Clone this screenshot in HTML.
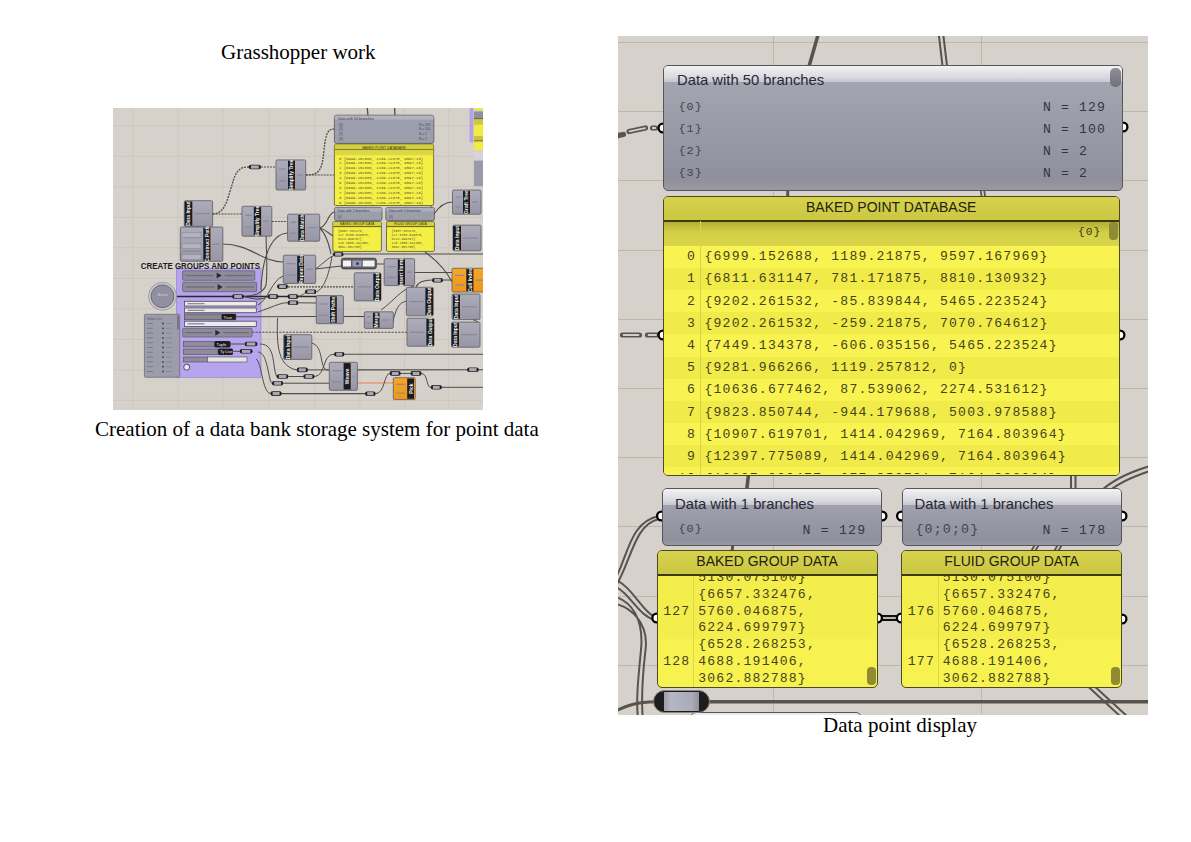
<!DOCTYPE html>
<html><head><meta charset="utf-8">
<style>
*{margin:0;padding:0;box-sizing:border-box}
html,body{width:1191px;height:842px;background:#fff;overflow:hidden;position:relative}
.cap{position:absolute;font-family:"Liberation Serif",serif;color:#000;white-space:nowrap;line-height:1}
.abs{position:absolute}
#rc{position:absolute;left:618px;top:36px;width:530px;height:679px;background:#d6d1ca;overflow:hidden}
.node{position:absolute;border:1.5px solid #55565a;border-radius:5px;background:linear-gradient(#a7a8b3,#8f909c 92%,#9899a5);overflow:hidden}
.node .hd{position:absolute;left:0;right:0;top:0;height:16px;background:linear-gradient(#f3f3f5,#d9d9df 70%,#c6c7cf)}
.ttl{position:absolute;font-family:"Liberation Sans",sans-serif;white-space:nowrap;line-height:1}
.mono{position:absolute;font-family:"Liberation Mono",monospace;white-space:pre;line-height:1}
.panel{position:absolute;border:1.5px solid #4b4a20;border-radius:5px;background:#f8f250;overflow:hidden}
.ph{position:absolute;left:0;right:0;top:0;background:linear-gradient(#d6d24c,#cbc743);border-bottom:2px solid #3c3a0a}
.clip{position:absolute;overflow:hidden}
</style></head><body>

<div class="cap" style="left:221.00px;top:42.41px;font-size:21px">Grasshopper work</div>
<div class="cap" style="left:95.00px;top:419.41px;font-size:21px">Creation of a data bank storage system for point data</div>
<div class="cap" style="left:823.00px;top:714.91px;font-size:21px">Data point display</div>
<div id="lc" class="abs" style="left:113px;top:108px;width:370px;height:302px;background:#d7d3cc;overflow:hidden">
<svg class="abs" style="left:0;top:0" width="370" height="302" viewBox="113 108 370 302" fill="none" font-family="Liberation Sans, sans-serif"><defs><linearGradient id="ng" x1="0" y1="0" x2="0" y2="1"><stop offset="0" stop-color="#adacba"/><stop offset="1" stop-color="#9896a6"/></linearGradient><linearGradient id="og" x1="0" y1="0" x2="0" y2="1"><stop offset="0" stop-color="#f8a628"/><stop offset="1" stop-color="#ef9618"/></linearGradient></defs><rect x="113" y="108" width="370" height="302" fill="#d6d2cb"/><line x1="113" y1="125.8" x2="483" y2="125.8" stroke="#ccc6be" stroke-width="1"/><line x1="113" y1="156.3" x2="483" y2="156.3" stroke="#ccc6be" stroke-width="1"/><line x1="113" y1="186.8" x2="483" y2="186.8" stroke="#ccc6be" stroke-width="1"/><line x1="113" y1="217.3" x2="483" y2="217.3" stroke="#ccc6be" stroke-width="1"/><line x1="113" y1="247.8" x2="483" y2="247.8" stroke="#ccc6be" stroke-width="1"/><line x1="113" y1="278.3" x2="483" y2="278.3" stroke="#ccc6be" stroke-width="1"/><line x1="113" y1="308.8" x2="483" y2="308.8" stroke="#ccc6be" stroke-width="1"/><line x1="113" y1="339.3" x2="483" y2="339.3" stroke="#ccc6be" stroke-width="1"/><line x1="113" y1="369.8" x2="483" y2="369.8" stroke="#ccc6be" stroke-width="1"/><line x1="113" y1="400.3" x2="483" y2="400.3" stroke="#ccc6be" stroke-width="1"/><line x1="133" y1="108" x2="133" y2="410" stroke="#cdc7bf" stroke-width="1"/><line x1="178" y1="108" x2="178" y2="410" stroke="#cdc7bf" stroke-width="1"/><line x1="223" y1="108" x2="223" y2="410" stroke="#cdc7bf" stroke-width="1"/><line x1="269" y1="108" x2="269" y2="410" stroke="#cdc7bf" stroke-width="1"/><line x1="315" y1="108" x2="315" y2="410" stroke="#cdc7bf" stroke-width="1"/><line x1="360" y1="108" x2="360" y2="410" stroke="#cdc7bf" stroke-width="1"/><line x1="404.5" y1="108" x2="404.5" y2="410" stroke="#cdc7bf" stroke-width="1"/><line x1="448.4" y1="108" x2="448.4" y2="410" stroke="#cdc7bf" stroke-width="1"/><rect x="176.4" y="268.5" width="84.6" height="108.8" fill="#b6a4ee" stroke="#8f7bd0" stroke-width="0.6"/><path d="M367 105 L368 116" stroke="#4f4c48" stroke-width="1.3"/><path d="M394.5 105 L395 116" stroke="#4f4c48" stroke-width="1.3"/><path d="M212.5 214 C226 214 228 196 232 185 C236 170 240 167 249 167" stroke="#4f4c48" stroke-width="1.3" stroke-dasharray="2 1"/><path d="M261 167 L276 167" stroke="#4f4c48" stroke-width="1.2" stroke-dasharray="2 1"/><path d="M212.5 214 L242 214" stroke="#4f4c48" stroke-width="1.2" stroke-dasharray="2 1"/><path d="M305.7 175 C320 175 322 170 324 150 C326 132 328 129 334.5 129" stroke="#4f4c48" stroke-width="1.3" stroke-dasharray="2 1"/><path d="M305.7 175 L334.5 175" stroke="#4f4c48" stroke-width="1.2" stroke-dasharray="2 1"/><path d="M271.8 221.5 L287.6 221.5" stroke="#4f4c48" stroke-width="1.2" stroke-dasharray="2 1"/><path d="M222.8 244 C250 244 262 262 283.3 262" stroke="#4f4c48" stroke-width="1.1"/><path d="M266 230 C266 250 268 270 266 285 C264 292 255 296 244 296.5" stroke="#4f4c48" stroke-width="1.1"/><path d="M261 290 C262 260 270 234 287.6 233" stroke="#4f4c48" stroke-width="1.1"/><path d="M319.7 228 C328 226 328 212 334.6 212" stroke="#4f4c48" stroke-width="1.1"/><path d="M319.7 228 C328 230 330 236 334 236 M319.7 228 C328 236 330 250 331 254" stroke="#4f4c48" stroke-width="1.1"/><path d="M177 296.5 L333 296.5" stroke="#2a2830" stroke-width="1.5"/><path d="M343.6 254 L483 254" stroke="#4f4c48" stroke-width="1.1"/><path d="M315.6 269 L341.4 266 M376.3 264 L384.2 264" stroke="#4f4c48" stroke-width="1.1"/><path d="M315.6 269 C325 262 328 258 333 256" stroke="#4f4c48" stroke-width="1.0"/><path d="M414.6 272.5 L452 272.5" stroke="#4f4c48" stroke-width="1.1"/><path d="M416 287 C418 282 424 280 432 280 M443 280 L452 280" stroke="#4f4c48" stroke-width="1.1"/><path d="M425 252 C436 260 446 270 452 282" stroke="#4f4c48" stroke-width="1.1"/><path d="M434 214 C440 205 446 202 452.5 202" stroke="#4f4c48" stroke-width="1.1"/><path d="M285 286.9 L354.3 286.9" stroke="#4f4c48" stroke-width="1.1" stroke-dasharray="2 1"/><path d="M244 296.5 C256 300 262 300 267.6 296.6" stroke="#4f4c48" stroke-width="1.1"/><path d="M258 305 C268 300 272 280 283.3 276" stroke="#4f4c48" stroke-width="1.0"/><path d="M258 312 C270 308 282 302 287.5 302.8" stroke="#4f4c48" stroke-width="1.0"/><path d="M298.5 302.8 L316.3 303" stroke="#4f4c48" stroke-width="1.0"/><path d="M298.5 296.6 C305 294 306 292 305.4 291.7" stroke="#4f4c48" stroke-width="1.0"/><path d="M316.8 291.7 C325 288 330 270 332 256" stroke="#4f4c48" stroke-width="1.0"/><path d="M235.8 316.8 L316.3 316.5" stroke="#4f4c48" stroke-width="1.1"/><path d="M230.5 344 L244.5 344 M233 351.3 L239.7 351.3" stroke="#4f4c48" stroke-width="1.0"/><path d="M343.4 316.5 L364.3 316.5" stroke="#4f4c48" stroke-width="1.1"/><path d="M381 310 C395 300 400 290 414 286" stroke="#4f4c48" stroke-width="1.0"/><path d="M406.4 301 C398 303 396 310 393.3 320" stroke="#4f4c48" stroke-width="1.0"/><path d="M252 332.3 L407 332.3" stroke="#4f4c48" stroke-width="1.1" stroke-dasharray="2.2 1.2"/><path d="M393.3 320 L393.3 322" stroke="#4f4c48" stroke-width="1.0"/><path d="M311.8 343 C318 345 320 350 322 362 C324 370 326 370 329.3 370" stroke="#4f4c48" stroke-width="1.0"/><path d="M260 344 C276 344 272 366 276.6 376.5" stroke="#4f4c48" stroke-width="1.0"/><path d="M258 352 C268 352 268 380 271.9 383.2" stroke="#4f4c48" stroke-width="1.0"/><path d="M256 359 C262 362 262 392 270.4 393.6" stroke="#4f4c48" stroke-width="1.0"/><path d="M288.5 376.5 L303.2 376.5 M314.6 376.5 C326 376 322 354 334 354.2" stroke="#4f4c48" stroke-width="1.0"/><path d="M344.5 354.2 L483 354.2" stroke="#4f4c48" stroke-width="1.1"/><path d="M277.5 318 C277 340 276 366 296.6 369.9 M308 369.9 L329.3 369.9" stroke="#4f4c48" stroke-width="1.0"/><path d="M283.3 383.2 L329.3 383.2" stroke="#4f4c48" stroke-width="1.0"/><path d="M357.4 369.9 L483 369.7" stroke="#4f4c48" stroke-width="1.1"/><path d="M357.4 383 L393.3 383" stroke="#e8805a" stroke-width="1.1"/><path d="M281.8 393.6 L365 393.6" stroke="#4f4c48" stroke-width="1.1"/><path d="M375.7 393.7 C385 393 384 374 389.6 373.4 M400.8 373.4 L410.4 373.4 M421.6 373.4 C428 374 426 387 430.7 387.3 M441.9 387.3 L483 387.3" stroke="#4f4c48" stroke-width="1.0"/><path d="M473 319.6 L478 322" stroke="#4f4c48" stroke-width="1.0"/><path d="M412 185 C420 190 430 200 434 214" stroke="#4f4c48" stroke-width="0.8"/><rect x="248.7" y="164.7" width="12.300000000000011" height="4.6" rx="2.3" fill="#1e1e1e"/><rect x="250.89999999999998" y="165.39999999999998" width="7.900000000000011" height="3.1999999999999997" fill="#a9a8b4"/><rect x="232" y="294.2" width="12" height="4.6" rx="2.3" fill="#1e1e1e"/><rect x="234.2" y="294.9" width="7.6" height="3.1999999999999997" fill="#a9a8b4"/><rect x="277" y="284.3" width="11" height="4.6" rx="2.3" fill="#1e1e1e"/><rect x="279.2" y="285.0" width="6.6" height="3.1999999999999997" fill="#a9a8b4"/><rect x="267.6" y="294.3" width="10.899999999999977" height="4.6" rx="2.3" fill="#1e1e1e"/><rect x="269.8" y="295.0" width="6.499999999999977" height="3.1999999999999997" fill="#a9a8b4"/><rect x="287.5" y="294.3" width="11.0" height="4.6" rx="2.3" fill="#1e1e1e"/><rect x="289.7" y="295.0" width="6.6" height="3.1999999999999997" fill="#a9a8b4"/><rect x="287.5" y="300.5" width="11.0" height="4.6" rx="2.3" fill="#1e1e1e"/><rect x="289.7" y="301.2" width="6.6" height="3.1999999999999997" fill="#a9a8b4"/><rect x="305" y="289.5" width="11.5" height="4.6" rx="2.3" fill="#1e1e1e"/><rect x="307.2" y="290.2" width="7.1" height="3.1999999999999997" fill="#a9a8b4"/><rect x="332.9" y="251.89999999999998" width="10.700000000000045" height="4.6" rx="2.3" fill="#1e1e1e"/><rect x="335.09999999999997" y="252.59999999999997" width="6.300000000000045" height="3.1999999999999997" fill="#a9a8b4"/><rect x="432" y="277.9" width="11" height="4.6" rx="2.3" fill="#1e1e1e"/><rect x="434.2" y="278.59999999999997" width="6.6" height="3.1999999999999997" fill="#a9a8b4"/><rect x="296.6" y="367.59999999999997" width="11.399999999999977" height="4.6" rx="2.3" fill="#1e1e1e"/><rect x="298.8" y="368.29999999999995" width="6.999999999999977" height="3.1999999999999997" fill="#a9a8b4"/><rect x="276.6" y="374.2" width="11.899999999999977" height="4.6" rx="2.3" fill="#1e1e1e"/><rect x="278.8" y="374.9" width="7.499999999999977" height="3.1999999999999997" fill="#a9a8b4"/><rect x="303.2" y="374.2" width="11.400000000000034" height="4.6" rx="2.3" fill="#1e1e1e"/><rect x="305.4" y="374.9" width="7.000000000000034" height="3.1999999999999997" fill="#a9a8b4"/><rect x="271.9" y="380.9" width="11.400000000000034" height="4.6" rx="2.3" fill="#1e1e1e"/><rect x="274.09999999999997" y="381.59999999999997" width="7.000000000000034" height="3.1999999999999997" fill="#a9a8b4"/><rect x="270.4" y="391.3" width="11.400000000000034" height="4.6" rx="2.3" fill="#1e1e1e"/><rect x="272.59999999999997" y="392.0" width="7.000000000000034" height="3.1999999999999997" fill="#a9a8b4"/><rect x="334" y="351.9" width="10.5" height="4.6" rx="2.3" fill="#1e1e1e"/><rect x="336.2" y="352.59999999999997" width="6.1" height="3.1999999999999997" fill="#a9a8b4"/><rect x="365" y="391.4" width="10.699999999999989" height="4.6" rx="2.3" fill="#1e1e1e"/><rect x="367.2" y="392.09999999999997" width="6.299999999999988" height="3.1999999999999997" fill="#a9a8b4"/><rect x="389.6" y="371.09999999999997" width="11.199999999999989" height="4.6" rx="2.3" fill="#1e1e1e"/><rect x="391.8" y="371.79999999999995" width="6.799999999999988" height="3.1999999999999997" fill="#a9a8b4"/><rect x="410.4" y="371.09999999999997" width="11.200000000000045" height="4.6" rx="2.3" fill="#1e1e1e"/><rect x="412.59999999999997" y="371.79999999999995" width="6.800000000000045" height="3.1999999999999997" fill="#a9a8b4"/><rect x="430.7" y="385.0" width="11.199999999999989" height="4.6" rx="2.3" fill="#1e1e1e"/><rect x="432.9" y="385.7" width="6.799999999999988" height="3.1999999999999997" fill="#a9a8b4"/><rect x="467" y="367.4" width="11.800000000000011" height="4.6" rx="2.3" fill="#1e1e1e"/><rect x="469.2" y="368.09999999999997" width="7.400000000000011" height="3.1999999999999997" fill="#a9a8b4"/><rect x="244.5" y="341.7" width="13.0" height="4.6" rx="2.3" fill="#1e1e1e"/><rect x="246.7" y="342.4" width="8.6" height="3.1999999999999997" fill="#a9a8b4"/><rect x="239.7" y="349.0" width="12.900000000000006" height="4.6" rx="2.3" fill="#1e1e1e"/><rect x="241.89999999999998" y="349.7" width="8.500000000000005" height="3.1999999999999997" fill="#a9a8b4"/><rect x="184.3" y="200.7" width="28.299999999999983" height="25.700000000000017" rx="1.2" fill="url(#ng)" stroke="#5c5b62" stroke-width="0.8"/><rect x="184.7" y="201.5" width="7.600000000000023" height="24.100000000000016" fill="#1b1b1d"/><text x="188.5" y="213.55" transform="rotate(-90 188.5 213.55)" text-anchor="middle" dominant-baseline="central" font-size="5" font-weight="bold" fill="#f2f2f2">Data Input</text><line x1="194.3" y1="213.55" x2="209.6" y2="213.55" stroke="#8a8996" stroke-width="1.2"/><rect x="180.3" y="227" width="42.5" height="34.30000000000001" rx="1.2" fill="url(#ng)" stroke="#5c5b62" stroke-width="0.8"/><rect x="203.3" y="227.8" width="7.099999999999994" height="32.70000000000001" fill="#1b1b1d"/><text x="206.85000000000002" y="244.15" transform="rotate(-90 206.85000000000002 244.15)" text-anchor="middle" dominant-baseline="central" font-size="5" font-weight="bold" fill="#f2f2f2">Construct Path</text><line x1="183.3" y1="237.29" x2="201.3" y2="237.29" stroke="#8a8996" stroke-width="1.2"/><line x1="183.3" y1="251.01" x2="201.3" y2="251.01" stroke="#8a8996" stroke-width="1.2"/><line x1="212.4" y1="244.15" x2="219.8" y2="244.15" stroke="#8a8996" stroke-width="1.2"/><rect x="182" y="232.5" width="19" height="5" fill="#b3b2bf" stroke="#7d7c88" stroke-width="0.4"/><rect x="182" y="243.5" width="19" height="5" fill="#b3b2bf" stroke="#7d7c88" stroke-width="0.4"/><rect x="182" y="254.5" width="19" height="5" fill="#b3b2bf" stroke="#7d7c88" stroke-width="0.4"/><rect x="276" y="159.9" width="29.69999999999999" height="30.099999999999994" rx="1.2" fill="url(#ng)" stroke="#5c5b62" stroke-width="0.8"/><rect x="288" y="160.70000000000002" width="7" height="28.499999999999993" fill="#1b1b1d"/><text x="291.5" y="174.95" transform="rotate(-90 291.5 174.95)" text-anchor="middle" dominant-baseline="central" font-size="5" font-weight="bold" fill="#f2f2f2">Simplify Tree</text><line x1="279" y1="168.93" x2="286" y2="168.93" stroke="#8a8996" stroke-width="1.2"/><line x1="279" y1="180.97" x2="286" y2="180.97" stroke="#8a8996" stroke-width="1.2"/><line x1="297" y1="174.95" x2="302.7" y2="174.95" stroke="#8a8996" stroke-width="1.2"/><rect x="242" y="206.3" width="29.80000000000001" height="29.899999999999977" rx="1.2" fill="url(#ng)" stroke="#5c5b62" stroke-width="0.8"/><rect x="253.8" y="207.10000000000002" width="7.300000000000011" height="28.299999999999976" fill="#1b1b1d"/><text x="257.45000000000005" y="221.25" transform="rotate(-90 257.45000000000005 221.25)" text-anchor="middle" dominant-baseline="central" font-size="5" font-weight="bold" fill="#f2f2f2">Simplify Tree</text><line x1="245" y1="215.27" x2="251.8" y2="215.27" stroke="#8a8996" stroke-width="1.2"/><line x1="245" y1="227.23" x2="251.8" y2="227.23" stroke="#8a8996" stroke-width="1.2"/><line x1="263.1" y1="221.25" x2="268.8" y2="221.25" stroke="#8a8996" stroke-width="1.2"/><rect x="287.6" y="214.2" width="32.099999999999966" height="27.0" rx="1.2" fill="url(#ng)" stroke="#5c5b62" stroke-width="0.8"/><rect x="298.3" y="215.0" width="6.699999999999989" height="25.4" fill="#1b1b1d"/><text x="301.65" y="227.7" transform="rotate(-90 301.65 227.7)" text-anchor="middle" dominant-baseline="central" font-size="5" font-weight="bold" fill="#f2f2f2">Data Match</text><line x1="290.6" y1="222.29999999999998" x2="296.3" y2="222.29999999999998" stroke="#8a8996" stroke-width="1.2"/><line x1="290.6" y1="233.1" x2="296.3" y2="233.1" stroke="#8a8996" stroke-width="1.2"/><line x1="307" y1="227.7" x2="316.7" y2="227.7" stroke="#8a8996" stroke-width="1.2"/><rect x="283.3" y="255.2" width="32.39999999999998" height="28.19999999999999" rx="1.2" fill="url(#ng)" stroke="#5c5b62" stroke-width="0.8"/><rect x="297.2" y="256.0" width="6.800000000000011" height="26.599999999999987" fill="#1b1b1d"/><text x="300.6" y="269.29999999999995" transform="rotate(-90 300.6 269.29999999999995)" text-anchor="middle" dominant-baseline="central" font-size="5" font-weight="bold" fill="#f2f2f2">Repeat Data</text><line x1="286.3" y1="263.65999999999997" x2="295.2" y2="263.65999999999997" stroke="#8a8996" stroke-width="1.2"/><line x1="286.3" y1="274.94" x2="295.2" y2="274.94" stroke="#8a8996" stroke-width="1.2"/><line x1="306" y1="269.29999999999995" x2="312.7" y2="269.29999999999995" stroke="#8a8996" stroke-width="1.2"/><rect x="384.2" y="258.7" width="30.400000000000034" height="26.900000000000034" rx="1.2" fill="url(#ng)" stroke="#5c5b62" stroke-width="0.8"/><rect x="397.8" y="259.5" width="7.199999999999989" height="25.300000000000033" fill="#1b1b1d"/><text x="401.4" y="272.15" transform="rotate(-90 401.4 272.15)" text-anchor="middle" dominant-baseline="central" font-size="5" font-weight="bold" fill="#f2f2f2">Insert Items</text><line x1="387.2" y1="266.77" x2="395.8" y2="266.77" stroke="#8a8996" stroke-width="1.2"/><line x1="387.2" y1="277.53000000000003" x2="395.8" y2="277.53000000000003" stroke="#8a8996" stroke-width="1.2"/><line x1="407" y1="272.15" x2="411.6" y2="272.15" stroke="#8a8996" stroke-width="1.2"/><rect x="452.5" y="190" width="28.5" height="24.19999999999999" rx="1.2" fill="url(#ng)" stroke="#5c5b62" stroke-width="0.8"/><rect x="463" y="190.8" width="7" height="22.599999999999987" fill="#1b1b1d"/><text x="466.5" y="202.1" transform="rotate(-90 466.5 202.1)" text-anchor="middle" dominant-baseline="central" font-size="5" font-weight="bold" fill="#f2f2f2">Graft Tree</text><line x1="455.5" y1="197.26" x2="461" y2="197.26" stroke="#8a8996" stroke-width="1.2"/><line x1="455.5" y1="206.94" x2="461" y2="206.94" stroke="#8a8996" stroke-width="1.2"/><line x1="472" y1="202.1" x2="478" y2="202.1" stroke="#8a8996" stroke-width="1.2"/><rect x="453" y="225.1" width="28" height="25.700000000000017" rx="1.2" fill="url(#ng)" stroke="#5c5b62" stroke-width="0.8"/><rect x="453" y="225.9" width="8" height="24.100000000000016" fill="#1b1b1d"/><text x="457.0" y="237.95" transform="rotate(-90 457.0 237.95)" text-anchor="middle" dominant-baseline="central" font-size="5" font-weight="bold" fill="#f2f2f2">Data Input</text><line x1="463" y1="237.95" x2="478" y2="237.95" stroke="#8a8996" stroke-width="1.2"/><rect x="452" y="268.3" width="38" height="23.69999999999999" rx="1.2" fill="url(#og)" stroke="#5c5b62" stroke-width="0.8"/><rect x="466.3" y="269.1" width="7.099999999999966" height="22.099999999999987" fill="#1b1b1d"/><text x="469.85" y="280.15" transform="rotate(-90 469.85 280.15)" text-anchor="middle" dominant-baseline="central" font-size="5" font-weight="bold" fill="#f2f2f2">Cull Index</text><line x1="455" y1="275.41" x2="464.3" y2="275.41" stroke="#8a8996" stroke-width="1.2"/><line x1="455" y1="284.89" x2="464.3" y2="284.89" stroke="#8a8996" stroke-width="1.2"/><line x1="475.4" y1="280.15" x2="487" y2="280.15" stroke="#8a8996" stroke-width="1.2"/><rect x="354.3" y="272.8" width="26.69999999999999" height="28.099999999999966" rx="1.2" fill="url(#ng)" stroke="#5c5b62" stroke-width="0.8"/><rect x="373.3" y="273.6" width="7.699999999999989" height="26.499999999999964" fill="#1b1b1d"/><text x="377.15" y="286.85" transform="rotate(-90 377.15 286.85)" text-anchor="middle" dominant-baseline="central" font-size="5" font-weight="bold" fill="#f2f2f2">Data Output</text><line x1="357.3" y1="286.85" x2="371.3" y2="286.85" stroke="#8a8996" stroke-width="1.2"/><rect x="406.4" y="287.3" width="26.900000000000034" height="28.5" rx="1.2" fill="url(#ng)" stroke="#5c5b62" stroke-width="0.8"/><rect x="425.4" y="288.1" width="7.600000000000023" height="26.9" fill="#1b1b1d"/><text x="429.2" y="301.55" transform="rotate(-90 429.2 301.55)" text-anchor="middle" dominant-baseline="central" font-size="5" font-weight="bold" fill="#f2f2f2">Data Output</text><line x1="409.4" y1="301.55" x2="423.4" y2="301.55" stroke="#8a8996" stroke-width="1.2"/><rect x="452" y="294" width="28" height="25.600000000000023" rx="1.2" fill="url(#ng)" stroke="#5c5b62" stroke-width="0.8"/><rect x="453" y="294.8" width="7" height="24.00000000000002" fill="#1b1b1d"/><text x="456.5" y="306.8" transform="rotate(-90 456.5 306.8)" text-anchor="middle" dominant-baseline="central" font-size="5" font-weight="bold" fill="#f2f2f2">Data Input</text><line x1="462" y1="306.8" x2="477" y2="306.8" stroke="#8a8996" stroke-width="1.2"/><rect x="407" y="318.2" width="27" height="28.0" rx="1.2" fill="url(#ng)" stroke="#5c5b62" stroke-width="0.8"/><rect x="426.4" y="319.0" width="7.600000000000023" height="26.4" fill="#1b1b1d"/><text x="430.2" y="332.2" transform="rotate(-90 430.2 332.2)" text-anchor="middle" dominant-baseline="central" font-size="5" font-weight="bold" fill="#f2f2f2">Data Output</text><line x1="410" y1="332.2" x2="424.4" y2="332.2" stroke="#8a8996" stroke-width="1.2"/><rect x="451.6" y="322.1" width="28.399999999999977" height="25.099999999999966" rx="1.2" fill="url(#ng)" stroke="#5c5b62" stroke-width="0.8"/><rect x="451.6" y="322.90000000000003" width="7.399999999999977" height="23.499999999999964" fill="#1b1b1d"/><text x="455.3" y="334.65" transform="rotate(-90 455.3 334.65)" text-anchor="middle" dominant-baseline="central" font-size="5" font-weight="bold" fill="#f2f2f2">Data Input</text><line x1="461" y1="334.65" x2="477" y2="334.65" stroke="#8a8996" stroke-width="1.2"/><rect x="316.3" y="295.6" width="27.099999999999966" height="28.099999999999966" rx="1.2" fill="url(#ng)" stroke="#5c5b62" stroke-width="0.8"/><rect x="330" y="296.40000000000003" width="6.800000000000011" height="26.499999999999964" fill="#1b1b1d"/><text x="333.4" y="309.65" transform="rotate(-90 333.4 309.65)" text-anchor="middle" dominant-baseline="central" font-size="5" font-weight="bold" fill="#f2f2f2">Shift Paths</text><line x1="319.3" y1="304.03000000000003" x2="328" y2="304.03000000000003" stroke="#8a8996" stroke-width="1.2"/><line x1="319.3" y1="315.27" x2="328" y2="315.27" stroke="#8a8996" stroke-width="1.2"/><line x1="338.8" y1="309.65" x2="340.4" y2="309.65" stroke="#8a8996" stroke-width="1.2"/><rect x="364.3" y="311.8" width="29.0" height="16.599999999999966" rx="1.2" fill="url(#ng)" stroke="#5c5b62" stroke-width="0.8"/><rect x="372.9" y="312.6" width="6.600000000000023" height="14.999999999999966" fill="#1b1b1d"/><text x="376.2" y="320.1" transform="rotate(-90 376.2 320.1)" text-anchor="middle" dominant-baseline="central" font-size="5" font-weight="bold" fill="#f2f2f2">Merge</text><line x1="367.3" y1="316.78" x2="370.9" y2="316.78" stroke="#8a8996" stroke-width="1.2"/><line x1="367.3" y1="323.41999999999996" x2="370.9" y2="323.41999999999996" stroke="#8a8996" stroke-width="1.2"/><line x1="381.5" y1="320.1" x2="390.3" y2="320.1" stroke="#8a8996" stroke-width="1.2"/><rect x="283.7" y="334.7" width="28.100000000000023" height="24.69999999999999" rx="1.2" fill="url(#ng)" stroke="#5c5b62" stroke-width="0.8"/><rect x="284.2" y="335.5" width="7.199999999999989" height="23.099999999999987" fill="#1b1b1d"/><text x="287.79999999999995" y="347.04999999999995" transform="rotate(-90 287.79999999999995 347.04999999999995)" text-anchor="middle" dominant-baseline="central" font-size="5" font-weight="bold" fill="#f2f2f2">Data Input</text><line x1="293.4" y1="347.04999999999995" x2="308.8" y2="347.04999999999995" stroke="#8a8996" stroke-width="1.2"/><rect x="329.3" y="362.3" width="28.099999999999966" height="28.0" rx="1.2" fill="url(#ng)" stroke="#5c5b62" stroke-width="0.8"/><rect x="343.6" y="363.1" width="7.099999999999966" height="26.4" fill="#1b1b1d"/><text x="347.15" y="376.3" transform="rotate(-90 347.15 376.3)" text-anchor="middle" dominant-baseline="central" font-size="5" font-weight="bold" fill="#f2f2f2">Weave</text><line x1="332.3" y1="370.7" x2="341.6" y2="370.7" stroke="#8a8996" stroke-width="1.2"/><line x1="332.3" y1="381.90000000000003" x2="341.6" y2="381.90000000000003" stroke="#8a8996" stroke-width="1.2"/><line x1="352.7" y1="376.3" x2="354.4" y2="376.3" stroke="#8a8996" stroke-width="1.2"/><rect x="393.3" y="377.7" width="21.899999999999977" height="21.900000000000034" rx="1.2" fill="url(#og)" stroke="#5c5b62" stroke-width="0.8"/><rect x="407.2" y="378.5" width="6.800000000000011" height="20.300000000000033" fill="#1b1b1d"/><text x="410.6" y="388.65" transform="rotate(-90 410.6 388.65)" text-anchor="middle" dominant-baseline="central" font-size="5" font-weight="bold" fill="#f2f2f2">Pick</text><line x1="396.3" y1="384.27" x2="405.2" y2="384.27" stroke="#8a8996" stroke-width="1.2"/><line x1="396.3" y1="393.03000000000003" x2="405.2" y2="393.03000000000003" stroke="#8a8996" stroke-width="1.2"/><rect x="334.4" y="115.2" width="99.4" height="28.2" rx="2" fill="#9c9eab" stroke="#55565c" stroke-width="0.8"/><rect x="334.8" y="115.6" width="98.6" height="4" fill="#b3b4be"/><text x="338" y="119.8" font-size="3.6" fill="#3a3b45">Data with 50 branches</text><text x="339" y="125.5" font-size="3.2" fill="#454650">{0}</text><text x="419" y="125.5" font-size="3.2" fill="#454650">N = 129</text><text x="339" y="130.4" font-size="3.2" fill="#454650">{1}</text><text x="419" y="130.4" font-size="3.2" fill="#454650">N = 100</text><text x="339" y="135.3" font-size="3.2" fill="#454650">{2}</text><text x="419" y="135.3" font-size="3.2" fill="#454650">N = 2</text><text x="339" y="140.2" font-size="3.2" fill="#454650">{3}</text><text x="419" y="140.2" font-size="3.2" fill="#454650">N = 2</text><rect x="334.4" y="144.2" width="99.2" height="61.3" rx="1.5" fill="#f4ef45" stroke="#5a5720" stroke-width="0.8"/><rect x="334.8" y="144.6" width="98.4" height="5" fill="#d4cf3e"/><line x1="334.8" y1="149.8" x2="433.2" y2="149.8" stroke="#3f3c10" stroke-width="0.8"/><rect x="334.8" y="150.2" width="98.4" height="5" fill="#dcd748"/><text x="384" y="148.6" text-anchor="middle" font-size="3.6" fill="#3a3812">BAKED POINT DATABASE</text><text x="339" y="159.5" font-size="3.9" fill="#5a5830" font-family="Liberation Mono, monospace">0 {6999.152688, 1189.21875, 9597.16}</text><text x="339" y="164.4" font-size="3.9" fill="#5a5830" font-family="Liberation Mono, monospace">1 {6999.152688, 1189.21875, 9597.16}</text><text x="339" y="169.3" font-size="3.9" fill="#5a5830" font-family="Liberation Mono, monospace">2 {6999.152688, 1189.21875, 9597.16}</text><text x="339" y="174.2" font-size="3.9" fill="#5a5830" font-family="Liberation Mono, monospace">3 {6999.152688, 1189.21875, 9597.16}</text><text x="339" y="179.1" font-size="3.9" fill="#5a5830" font-family="Liberation Mono, monospace">4 {6999.152688, 1189.21875, 9597.16}</text><text x="339" y="184.0" font-size="3.9" fill="#5a5830" font-family="Liberation Mono, monospace">5 {6999.152688, 1189.21875, 9597.16}</text><text x="339" y="188.9" font-size="3.9" fill="#5a5830" font-family="Liberation Mono, monospace">6 {6999.152688, 1189.21875, 9597.16}</text><text x="339" y="193.8" font-size="3.9" fill="#5a5830" font-family="Liberation Mono, monospace">7 {6999.152688, 1189.21875, 9597.16}</text><text x="339" y="198.7" font-size="3.9" fill="#5a5830" font-family="Liberation Mono, monospace">8 {6999.152688, 1189.21875, 9597.16}</text><text x="339" y="203.6" font-size="3.9" fill="#5a5830" font-family="Liberation Mono, monospace">9 {6999.152688, 1189.21875, 9597.16}</text><rect x="334.6" y="207.4" width="47.39999999999998" height="13" rx="1.5" fill="#9c9eab" stroke="#55565c" stroke-width="0.8"/><rect x="335.0" y="207.8" width="46.59999999999998" height="3.6" fill="#aeafba"/><text x="337.6" y="212" font-size="3.4" fill="#3a3b45">Data with 1 branches</text><text x="337.6" y="218.2" font-size="3.2" fill="#454650">{0}</text><rect x="385.9" y="207.4" width="48.5" height="13" rx="1.5" fill="#9c9eab" stroke="#55565c" stroke-width="0.8"/><rect x="386.29999999999995" y="207.8" width="47.7" height="3.6" fill="#aeafba"/><text x="388.9" y="212" font-size="3.4" fill="#3a3b45">Data with 1 branches</text><text x="388.9" y="218.2" font-size="3.2" fill="#454650">{0}</text><rect x="332.9" y="221.5" width="48.5" height="29.9" rx="1.5" fill="#f4ef45" stroke="#5a5720" stroke-width="0.8"/><rect x="333.29999999999995" y="221.9" width="47.7" height="4.5" fill="#d4cf3e"/><line x1="333.29999999999995" y1="226.6" x2="381.0" y2="226.6" stroke="#3f3c10" stroke-width="0.8"/><text x="357.15" y="225.4" text-anchor="middle" font-size="3.4" fill="#3a3812">BAKED GROUP DATA</text><text x="337.9" y="231.5" font-size="3.3" fill="#5a5830" font-family="Liberation Mono, monospace">{6657.332476,</text><text x="337.9" y="235.5" font-size="3.3" fill="#5a5830" font-family="Liberation Mono, monospace">127 5760.046875,</text><text x="337.9" y="239.5" font-size="3.3" fill="#5a5830" font-family="Liberation Mono, monospace">  6224.699797}</text><text x="337.9" y="243.5" font-size="3.3" fill="#5a5830" font-family="Liberation Mono, monospace">128 4688.191406,</text><text x="337.9" y="247.5" font-size="3.3" fill="#5a5830" font-family="Liberation Mono, monospace">  3062.882788}</text><rect x="386.5" y="221.5" width="47.89999999999998" height="29.9" rx="1.5" fill="#f4ef45" stroke="#5a5720" stroke-width="0.8"/><rect x="386.9" y="221.9" width="47.09999999999998" height="4.5" fill="#d4cf3e"/><line x1="386.9" y1="226.6" x2="434.0" y2="226.6" stroke="#3f3c10" stroke-width="0.8"/><text x="410.45" y="225.4" text-anchor="middle" font-size="3.4" fill="#3a3812">FLUID GROUP DATA</text><text x="391.5" y="231.5" font-size="3.3" fill="#5a5830" font-family="Liberation Mono, monospace">{6657.332476,</text><text x="391.5" y="235.5" font-size="3.3" fill="#5a5830" font-family="Liberation Mono, monospace">127 5760.046875,</text><text x="391.5" y="239.5" font-size="3.3" fill="#5a5830" font-family="Liberation Mono, monospace">  6224.699797}</text><text x="391.5" y="243.5" font-size="3.3" fill="#5a5830" font-family="Liberation Mono, monospace">128 4688.191406,</text><text x="391.5" y="247.5" font-size="3.3" fill="#5a5830" font-family="Liberation Mono, monospace">  3062.882788}</text><rect x="341.4" y="258.2" width="34.9" height="10.7" rx="2" fill="#5f5e66" stroke="#3a393f" stroke-width="0.8"/><rect x="343" y="260.5" width="8" height="6" fill="#f4f4f6"/><rect x="352.5" y="260.5" width="9" height="6" fill="#9b9cb4"/><circle cx="357.5" cy="263.5" r="1.5" fill="#2d3a8a"/><rect x="362.8" y="260.5" width="11.8" height="6" fill="#f4f4f6"/><rect x="469.6" y="108" width="3.7" height="34.4" fill="#b1a2e4"/><rect x="473.9" y="108" width="10" height="2" fill="#f0ea40"/><rect x="473.9" y="111.4" width="10" height="7.0" fill="#8f8f9d"/><rect x="473.9" y="118.9" width="10" height="5.8999999999999915" fill="#cdc83c"/><rect x="473.9" y="124.8" width="10" height="11.200000000000003" fill="#f2ec42"/><rect x="473.9" y="136" width="10" height="4.800000000000011" fill="#c9c43a"/><rect x="473.9" y="141.3" width="10" height="8.699999999999989" fill="#f2ec42"/><rect x="473.9" y="152" width="10" height="6.400000000000006" fill="#d4d4da"/><rect x="473.9" y="160.6" width="10" height="25.599999999999994" fill="#9a99a8"/><line x1="473.9" y1="118.6" x2="484" y2="118.6" stroke="#222" stroke-width="0.6"/><line x1="473.9" y1="140.9" x2="484" y2="140.9" stroke="#222" stroke-width="0.6"/><text x="140.8" y="268.8" font-size="8.3" font-weight="bold" fill="#1c1c22" textLength="119.2" lengthAdjust="spacingAndGlyphs">CREATE GROUPS AND POINTS</text><rect x="182.6" y="270.8" width="72.20000000000002" height="9.5" rx="1" fill="#8e8c9a" stroke="#5d5b66" stroke-width="0.7"/><path d="M216.7 272.55 L221.7 275.55 L216.7 278.55 Z" fill="#2a2933"/><line x1="185.6" y1="275.55" x2="213.7" y2="275.55" stroke="#6f6d7b" stroke-width="1.4"/><line x1="224.7" y1="275.55" x2="251.8" y2="275.55" stroke="#6f6d7b" stroke-width="1.4"/><rect x="182.6" y="282.2" width="74.1" height="9.5" rx="1" fill="#8e8c9a" stroke="#5d5b66" stroke-width="0.7"/><path d="M217.64999999999998 283.95 L222.64999999999998 286.95 L217.64999999999998 289.95 Z" fill="#2a2933"/><line x1="185.6" y1="286.95" x2="214.64999999999998" y2="286.95" stroke="#6f6d7b" stroke-width="1.4"/><line x1="225.64999999999998" y1="286.95" x2="253.7" y2="286.95" stroke="#6f6d7b" stroke-width="1.4"/><rect x="184.5" y="301.3" width="71.80000000000001" height="4.699999999999989" fill="#ecebea" stroke="#4c4b52" stroke-width="0.8"/><line x1="187.5" y1="303.65" x2="204.5" y2="303.65" stroke="#8d8c93" stroke-width="1.3"/><rect x="184.5" y="308" width="71.80000000000001" height="4.699999999999989" fill="#ecebea" stroke="#4c4b52" stroke-width="0.8"/><line x1="187.5" y1="310.35" x2="204.5" y2="310.35" stroke="#8d8c93" stroke-width="1.3"/><rect x="184.5" y="314" width="51.3" height="5.8" fill="#8a8896" stroke="#4c4b52" stroke-width="0.7"/><rect x="221.6" y="314" width="14.2" height="5.8" rx="1" fill="#1c1c1f"/><text x="223.5" y="318.5" font-size="4.2" fill="#eee">True</text><rect x="184.5" y="321.2" width="71.80000000000001" height="5.199999999999989" fill="#ecebea" stroke="#4c4b52" stroke-width="0.8"/><line x1="187.5" y1="323.79999999999995" x2="204.5" y2="323.79999999999995" stroke="#8d8c93" stroke-width="1.3"/><rect x="182.6" y="328.3" width="69.4" height="8.699999999999989" rx="1" fill="#8e8c9a" stroke="#5d5b66" stroke-width="0.7"/><path d="M215.3 329.65 L220.3 332.65 L215.3 335.65 Z" fill="#2a2933"/><line x1="185.6" y1="332.65" x2="212.3" y2="332.65" stroke="#6f6d7b" stroke-width="1.4"/><line x1="223.3" y1="332.65" x2="249" y2="332.65" stroke="#6f6d7b" stroke-width="1.4"/><rect x="183.4" y="341.5" width="31.0" height="5.399999999999977" fill="#8e8c9a" stroke="#4c4b52" stroke-width="0.6"/><rect x="214.4" y="341.0" width="16.099999999999994" height="6.399999999999977" rx="1.5" fill="#1d1d20"/><text x="216.4" y="345.7" font-size="4" fill="#eee">Tuple</text><rect x="183.4" y="349" width="34.599999999999994" height="5.399999999999977" fill="#8e8c9a" stroke="#4c4b52" stroke-width="0.6"/><rect x="218" y="348.5" width="15" height="6.399999999999977" rx="1.5" fill="#1d1d20"/><text x="220" y="353.2" font-size="4" fill="#eee">Ty Live</text><rect x="183.4" y="357" width="24" height="5" fill="#8e8c9a" stroke="#4c4b52" stroke-width="0.6"/><rect x="207.4" y="357" width="39.6" height="5" fill="#e3e7e0" stroke="#4c4b52" stroke-width="0.6"/><circle cx="186.7" cy="367.2" r="3" fill="#eceaf2" stroke="#3c3a48" stroke-width="0.9"/><rect x="144.4" y="314.3" width="35.3" height="63" rx="1" fill="#9d9cab" stroke="#67666f" stroke-width="0.7"/><text x="147" y="320" font-size="3.4" fill="#55546a">Value List</text><line x1="147" y1="323.5" x2="153" y2="323.5" stroke="#7a7988" stroke-width="1"/><circle cx="163" cy="323.5" r="0.9" fill="#3c3c48"/><line x1="166" y1="323.5" x2="172" y2="323.5" stroke="#858493" stroke-width="0.8"/><line x1="147" y1="328.3" x2="153" y2="328.3" stroke="#7a7988" stroke-width="1"/><circle cx="163" cy="328.3" r="0.9" fill="#3c3c48"/><line x1="166" y1="328.3" x2="172" y2="328.3" stroke="#858493" stroke-width="0.8"/><line x1="147" y1="333.1" x2="153" y2="333.1" stroke="#7a7988" stroke-width="1"/><circle cx="163" cy="333.1" r="0.9" fill="#3c3c48"/><line x1="166" y1="333.1" x2="172" y2="333.1" stroke="#858493" stroke-width="0.8"/><line x1="147" y1="337.9" x2="153" y2="337.9" stroke="#7a7988" stroke-width="1"/><circle cx="163" cy="337.9" r="0.9" fill="#3c3c48"/><line x1="166" y1="337.9" x2="172" y2="337.9" stroke="#858493" stroke-width="0.8"/><line x1="147" y1="342.7" x2="153" y2="342.7" stroke="#7a7988" stroke-width="1"/><circle cx="163" cy="342.7" r="0.9" fill="#3c3c48"/><line x1="166" y1="342.7" x2="172" y2="342.7" stroke="#858493" stroke-width="0.8"/><line x1="147" y1="347.5" x2="153" y2="347.5" stroke="#7a7988" stroke-width="1"/><circle cx="163" cy="347.5" r="0.9" fill="#3c3c48"/><line x1="166" y1="347.5" x2="172" y2="347.5" stroke="#858493" stroke-width="0.8"/><line x1="147" y1="352.3" x2="153" y2="352.3" stroke="#7a7988" stroke-width="1"/><circle cx="163" cy="352.3" r="0.9" fill="#3c3c48"/><line x1="166" y1="352.3" x2="172" y2="352.3" stroke="#858493" stroke-width="0.8"/><line x1="147" y1="357.1" x2="153" y2="357.1" stroke="#7a7988" stroke-width="1"/><circle cx="163" cy="357.1" r="0.9" fill="#3c3c48"/><line x1="166" y1="357.1" x2="172" y2="357.1" stroke="#858493" stroke-width="0.8"/><line x1="147" y1="361.9" x2="153" y2="361.9" stroke="#7a7988" stroke-width="1"/><circle cx="163" cy="361.9" r="0.9" fill="#3c3c48"/><line x1="166" y1="361.9" x2="172" y2="361.9" stroke="#858493" stroke-width="0.8"/><line x1="147" y1="366.7" x2="153" y2="366.7" stroke="#7a7988" stroke-width="1"/><circle cx="163" cy="366.7" r="0.9" fill="#3c3c48"/><line x1="166" y1="366.7" x2="172" y2="366.7" stroke="#858493" stroke-width="0.8"/><line x1="147" y1="371.5" x2="153" y2="371.5" stroke="#7a7988" stroke-width="1"/><circle cx="163" cy="371.5" r="0.9" fill="#3c3c48"/><line x1="166" y1="371.5" x2="172" y2="371.5" stroke="#858493" stroke-width="0.8"/><rect x="177" y="315.5" width="2.4" height="14" fill="#777684"/><circle cx="162.5" cy="296.3" r="14" fill="#c9c7c9" stroke="#8d8b90" stroke-width="0.7"/><circle cx="162.5" cy="296.3" r="11.4" fill="#9190a2" stroke="#5d5c6a" stroke-width="0.8"/><text x="162.9" y="295.5" text-anchor="middle" font-size="3.6" fill="#d0d0d8">Button</text></svg>
</div>
<div id="rc"><div class="abs" style="left:-618px;top:-36px;width:1191px;height:842px">
<div class="abs" style="left:618px;top:41.9px;width:530px;height:1px;background:#bdb6ad"></div>
<div class="abs" style="left:618px;top:111.1px;width:530px;height:1px;background:#bdb6ad"></div>
<div class="abs" style="left:618px;top:180.3px;width:530px;height:1px;background:#bdb6ad"></div>
<div class="abs" style="left:618px;top:249.6px;width:530px;height:1px;background:#bdb6ad"></div>
<div class="abs" style="left:618px;top:318.8px;width:530px;height:1px;background:#bdb6ad"></div>
<div class="abs" style="left:618px;top:388.0px;width:530px;height:1px;background:#bdb6ad"></div>
<div class="abs" style="left:618px;top:457.2px;width:530px;height:1px;background:#bdb6ad"></div>
<div class="abs" style="left:618px;top:526.4px;width:530px;height:1px;background:#bdb6ad"></div>
<div class="abs" style="left:618px;top:595.7px;width:530px;height:1px;background:#bdb6ad"></div>
<div class="abs" style="left:618px;top:664.9px;width:530px;height:1px;background:#bdb6ad"></div>
<div class="abs" style="left:772.5px;top:36px;width:1px;height:678px;background:#bdb6ad"></div>
<div class="abs" style="left:980.5px;top:36px;width:1px;height:678px;background:#bdb6ad"></div>
<svg class="abs" style="left:0;top:0" width="1191" height="842" viewBox="0 0 1191 842" fill="none"><path d="M820 28 L808 70" stroke="#57544f" stroke-width="3.5"/><path d="M938 28 L943 70 M942.5 28 L947.5 70" stroke="#57544f" stroke-width="2"/><path d="M788 185 L787.5 200" stroke="#57544f" stroke-width="3"/><path d="M980 185 L982 200 M983.5 185 L985.5 200" stroke="#57544f" stroke-width="1.8"/><path d="M749 470 L746.5 492" stroke="#57544f" stroke-width="3.5"/><path d="M1071 470 L1071 492 M1075.5 470 L1075.5 492" stroke="#57544f" stroke-width="2"/><path d="M733 540 L732 555" stroke="#57544f" stroke-width="3"/><path d="M1036 543 L1030 553 M1040 543 L1034 553 M1059 543 L1053 553 M1063 543 L1057 553" stroke="#57544f" stroke-width="1.8"/><path d="M1150 466 C1130 472 1112 480 1100 492 M1150 471 C1132 477 1116 484 1106 494" stroke="#57544f" stroke-width="2"/><path d="M1080 673 L1128 717 M1080 679 L1121 717" stroke="#57544f" stroke-width="2"/><path d="M700 701.8 L1160 701.8" stroke="#57544f" stroke-width="3.5"/><path d="M610 137 L623.5 134.5 M629 131.5 L645.5 128 M652.5 128 L655.5 128" stroke="#57544f" stroke-width="5.2" stroke-linecap="round"/><path d="M629.5 131.4 L645 128.1 M652.8 128 L655.2 128" stroke="#d3cec6" stroke-width="1.8" stroke-linecap="round"/><path d="M622.5 335 L639.5 335 M647.5 335 L662 335" stroke="#57544f" stroke-width="5.2" stroke-linecap="round"/><path d="M623.5 335 L638.5 335 M648.5 335 L656 335" stroke="#d3cec6" stroke-width="1.8" stroke-linecap="round"/><path d="M612 585 C628 560 628 522 659 516 M612 592 C631 567 632 525 659 519" stroke="#57544f" stroke-width="2"/><path d="M612 578 C632 585 642 612 655 617 M612 585 C630 592 638 616 655 620" stroke="#57544f" stroke-width="2"/><path d="M612 596 C632 600 644 620 641 650 C638 680 636 700 638 720 M612 603 C630 606 649 622 645.5 650 C642 680 641 700 643 720" stroke="#57544f" stroke-width="2"/><path d="M612 713 C626 705 638 702 656 701.8" stroke="#57544f" stroke-width="3"/><path d="M877 618 L901 618" stroke="#111" stroke-width="6"/><path d="M881 618 L897 618" stroke="#f0f0f0" stroke-width="1.5"/><circle cx="663" cy="128" r="4.4" fill="#fff" stroke="#000" stroke-width="2.3"/><circle cx="1123" cy="127" r="4.4" fill="#fff" stroke="#000" stroke-width="2.3"/><circle cx="663" cy="335" r="4.4" fill="#fff" stroke="#000" stroke-width="2.3"/><circle cx="1120" cy="335" r="4.4" fill="#fff" stroke="#000" stroke-width="2.3"/><circle cx="661.5" cy="516" r="4.4" fill="#fff" stroke="#000" stroke-width="2.3"/><circle cx="882" cy="516" r="4.4" fill="#fff" stroke="#000" stroke-width="2.3"/><circle cx="901.5" cy="516" r="4.4" fill="#fff" stroke="#000" stroke-width="2.3"/><circle cx="1122" cy="516" r="4.4" fill="#fff" stroke="#000" stroke-width="2.3"/><circle cx="656.75" cy="618" r="4.4" fill="#fff" stroke="#000" stroke-width="2.3"/><circle cx="877.5" cy="618" r="4.4" fill="#fff" stroke="#000" stroke-width="2.3"/><circle cx="901.3" cy="618" r="4.4" fill="#fff" stroke="#000" stroke-width="2.3"/><circle cx="1122" cy="619" r="4.4" fill="#fff" stroke="#000" stroke-width="2.3"/></svg>
<div class="node" style="left:663px;top:65px;width:460px;height:125.5px"><div class="hd"></div></div>
<div class="ttl" style="left:677.00px;top:73.47px;font-size:14.8px;color:#262936;">Data with 50 branches</div>
<div class="abs" style="left:1110px;top:68px;width:11px;height:19px;border-radius:5px;background:linear-gradient(#8e9098,#6f717a)"></div>
<div class="mono" style="left:678.50px;top:101.58px;font-size:11.74px;letter-spacing:1.05px;color:#41434e;">{0}</div>
<div class="mono" style="left:1043.00px;top:101.01px;font-size:13.05px;letter-spacing:1.17px;color:#33353f;">N = 129</div>
<div class="mono" style="left:678.50px;top:123.58px;font-size:11.74px;letter-spacing:1.05px;color:#41434e;">{1}</div>
<div class="mono" style="left:1043.00px;top:123.01px;font-size:13.05px;letter-spacing:1.17px;color:#33353f;">N = 100</div>
<div class="mono" style="left:678.50px;top:145.58px;font-size:11.74px;letter-spacing:1.05px;color:#41434e;">{2}</div>
<div class="mono" style="left:1043.00px;top:145.01px;font-size:13.05px;letter-spacing:1.17px;color:#33353f;">N = 2</div>
<div class="mono" style="left:678.50px;top:167.58px;font-size:11.74px;letter-spacing:1.05px;color:#41434e;">{3}</div>
<div class="mono" style="left:1043.00px;top:167.01px;font-size:13.05px;letter-spacing:1.17px;color:#33353f;">N = 2</div>
<div class="panel" style="left:663px;top:195.5px;width:457px;height:280px">
<div class="ph" style="height:25.5px"></div>
<div class="abs" style="left:0;right:0;top:25.5px;height:25px;background:linear-gradient(#b3af36,#d2ce45 40%,#dad64c)"></div>
<div class="abs" style="left:0;right:0;top:49.0px;height:22.2px;background:#f9f352"></div>
<div class="abs" style="left:0;right:0;top:71.2px;height:22.2px;background:#f1eb4a"></div>
<div class="abs" style="left:0;right:0;top:93.4px;height:22.2px;background:#f9f352"></div>
<div class="abs" style="left:0;right:0;top:115.6px;height:22.2px;background:#f1eb4a"></div>
<div class="abs" style="left:0;right:0;top:137.8px;height:22.2px;background:#f9f352"></div>
<div class="abs" style="left:0;right:0;top:160.0px;height:22.2px;background:#f1eb4a"></div>
<div class="abs" style="left:0;right:0;top:182.2px;height:22.2px;background:#f9f352"></div>
<div class="abs" style="left:0;right:0;top:204.4px;height:22.2px;background:#f1eb4a"></div>
<div class="abs" style="left:0;right:0;top:226.6px;height:22.2px;background:#f9f352"></div>
<div class="abs" style="left:0;right:0;top:248.8px;height:22.2px;background:#f1eb4a"></div>
<div class="abs" style="left:0;right:0;top:271.0px;height:22.2px;background:#f9f352"></div>
<div class="abs" style="left:35.5px;top:24px;width:1px;height:260px;background:#d9d148"></div>
<div class="abs" style="left:444.5px;top:25px;width:9px;height:18px;border-radius:4px;background:#8f8b33"></div>
</div>
<div class="ttl" style="left:806.00px;top:199.95px;font-size:14px;color:#24220e;">BAKED POINT DATABASE</div>
<div class="mono" style="left:1078.00px;top:227.07px;font-size:11.31px;letter-spacing:1.01px;color:#3a3814;">{0}</div>
<div class="clip" style="left:664.5px;top:247px;width:454px;height:227px"><div class="abs" style="left:-664.5px;top:-247px">
<div class="mono" style="left:686.94px;top:250.27px;font-size:13.14px;letter-spacing:1.18px;color:#45431c;">0</div>
<div class="mono" style="left:704.50px;top:250.27px;font-size:13.14px;letter-spacing:1.18px;color:#45431c;">{6999.152688, 1189.21875, 9597.167969}</div>
<div class="mono" style="left:686.94px;top:272.47px;font-size:13.14px;letter-spacing:1.18px;color:#45431c;">1</div>
<div class="mono" style="left:704.50px;top:272.47px;font-size:13.14px;letter-spacing:1.18px;color:#45431c;">{6811.631147, 781.171875, 8810.130932}</div>
<div class="mono" style="left:686.94px;top:294.67px;font-size:13.14px;letter-spacing:1.18px;color:#45431c;">2</div>
<div class="mono" style="left:704.50px;top:294.67px;font-size:13.14px;letter-spacing:1.18px;color:#45431c;">{9202.261532, -85.839844, 5465.223524}</div>
<div class="mono" style="left:686.94px;top:316.87px;font-size:13.14px;letter-spacing:1.18px;color:#45431c;">3</div>
<div class="mono" style="left:704.50px;top:316.87px;font-size:13.14px;letter-spacing:1.18px;color:#45431c;">{9202.261532, -259.21875, 7070.764612}</div>
<div class="mono" style="left:686.94px;top:339.07px;font-size:13.14px;letter-spacing:1.18px;color:#45431c;">4</div>
<div class="mono" style="left:704.50px;top:339.07px;font-size:13.14px;letter-spacing:1.18px;color:#45431c;">{7449.134378, -606.035156, 5465.223524}</div>
<div class="mono" style="left:686.94px;top:361.27px;font-size:13.14px;letter-spacing:1.18px;color:#45431c;">5</div>
<div class="mono" style="left:704.50px;top:361.27px;font-size:13.14px;letter-spacing:1.18px;color:#45431c;">{9281.966266, 1119.257812, 0}</div>
<div class="mono" style="left:686.94px;top:383.47px;font-size:13.14px;letter-spacing:1.18px;color:#45431c;">6</div>
<div class="mono" style="left:704.50px;top:383.47px;font-size:13.14px;letter-spacing:1.18px;color:#45431c;">{10636.677462, 87.539062, 2274.531612}</div>
<div class="mono" style="left:686.94px;top:405.67px;font-size:13.14px;letter-spacing:1.18px;color:#45431c;">7</div>
<div class="mono" style="left:704.50px;top:405.67px;font-size:13.14px;letter-spacing:1.18px;color:#45431c;">{9823.850744, -944.179688, 5003.978588}</div>
<div class="mono" style="left:686.94px;top:427.87px;font-size:13.14px;letter-spacing:1.18px;color:#45431c;">8</div>
<div class="mono" style="left:704.50px;top:427.87px;font-size:13.14px;letter-spacing:1.18px;color:#45431c;">{10907.619701, 1414.042969, 7164.803964}</div>
<div class="mono" style="left:686.94px;top:450.07px;font-size:13.14px;letter-spacing:1.18px;color:#45431c;">9</div>
<div class="mono" style="left:704.50px;top:450.07px;font-size:13.14px;letter-spacing:1.18px;color:#45431c;">{12397.775089, 1414.042969, 7164.803964}</div>
<div class="mono" style="left:677.88px;top:472.27px;font-size:13.14px;letter-spacing:1.18px;color:#45431c;">10</div>
<div class="mono" style="left:704.50px;top:472.27px;font-size:13.14px;letter-spacing:1.18px;color:#45431c;">{12907.230477, 677.850781, 7164.803964}</div>
</div></div>
<div class="node" style="left:661.5px;top:487.5px;width:220.5px;height:58.5px"><div class="hd"></div></div>
<div class="node" style="left:901.5px;top:487.5px;width:220.5px;height:58.5px"><div class="hd"></div></div>
<div class="ttl" style="left:675.00px;top:497.17px;font-size:14.8px;color:#262936;">Data with 1 branches</div>
<div class="ttl" style="left:914.50px;top:497.17px;font-size:14.8px;color:#262936;">Data with 1 branches</div>
<div class="mono" style="left:678.50px;top:523.88px;font-size:11.74px;letter-spacing:1.05px;color:#41434e;">{0}</div>
<div class="mono" style="left:802.50px;top:523.53px;font-size:13.22px;letter-spacing:1.19px;color:#353741;">N = 129</div>
<div class="mono" style="left:915.50px;top:523.23px;font-size:13.22px;letter-spacing:1.19px;color:#41434e;">{0;0;0}</div>
<div class="mono" style="left:1042.50px;top:523.53px;font-size:13.22px;letter-spacing:1.19px;color:#353741;">N = 178</div>
<div class="panel" style="left:656.75px;top:549.5px;width:220.75px;height:138.5px">
<div class="ph" style="height:25px"></div>
<div class="abs" style="left:0;right:0;top:25px;height:63px;background:#f4ee4c"></div>
<div class="abs" style="left:35.5px;top:25px;width:1px;height:120px;background:#ddd54a"></div>
<div class="abs" style="left:208.75px;top:116.5px;width:9px;height:18px;border-radius:4px;background:#8f8b33"></div>
</div>
<div class="ttl" style="left:767.12px;top:553.95px;font-size:14px;color:#24220e;transform:translateX(-50%)">BAKED GROUP DATA</div>
<div class="clip" style="left:658.25px;top:576px;width:217.75px;height:110px"><div class="abs" style="left:-658.25px;top:-576px">
<div class="mono" style="left:698.25px;top:570.67px;font-size:13.14px;letter-spacing:1.18px;color:#45431c;">5130.075100}</div>
<div class="mono" style="left:698.25px;top:587.60px;font-size:13.14px;letter-spacing:1.18px;color:#45431c;">{6657.332476,</div>
<div class="mono" style="left:698.25px;top:604.53px;font-size:13.14px;letter-spacing:1.18px;color:#45431c;">5760.046875,</div>
<div class="mono" style="left:698.25px;top:621.46px;font-size:13.14px;letter-spacing:1.18px;color:#45431c;">6224.699797}</div>
<div class="mono" style="left:698.25px;top:638.39px;font-size:13.14px;letter-spacing:1.18px;color:#45431c;">{6528.268253,</div>
<div class="mono" style="left:698.25px;top:655.32px;font-size:13.14px;letter-spacing:1.18px;color:#45431c;">4688.191406,</div>
<div class="mono" style="left:698.25px;top:672.25px;font-size:13.14px;letter-spacing:1.18px;color:#45431c;">3062.882788}</div>
<div class="mono" style="left:663.25px;top:604.53px;font-size:13.14px;letter-spacing:1.18px;color:#45431c;">127</div>
<div class="mono" style="left:663.25px;top:655.32px;font-size:13.14px;letter-spacing:1.18px;color:#45431c;">128</div>
</div></div>
<div class="panel" style="left:901.3px;top:549.5px;width:220.70000000000005px;height:138.5px">
<div class="ph" style="height:25px"></div>
<div class="abs" style="left:0;right:0;top:25px;height:63px;background:#f4ee4c"></div>
<div class="abs" style="left:35.5px;top:25px;width:1px;height:120px;background:#ddd54a"></div>
<div class="abs" style="left:208.70000000000005px;top:116.5px;width:9px;height:18px;border-radius:4px;background:#8f8b33"></div>
</div>
<div class="ttl" style="left:1011.65px;top:553.95px;font-size:14px;color:#24220e;transform:translateX(-50%)">FLUID GROUP DATA</div>
<div class="clip" style="left:902.8px;top:576px;width:217.70000000000005px;height:110px"><div class="abs" style="left:-902.8px;top:-576px">
<div class="mono" style="left:942.80px;top:570.67px;font-size:13.14px;letter-spacing:1.18px;color:#45431c;">5130.075100}</div>
<div class="mono" style="left:942.80px;top:587.60px;font-size:13.14px;letter-spacing:1.18px;color:#45431c;">{6657.332476,</div>
<div class="mono" style="left:942.80px;top:604.53px;font-size:13.14px;letter-spacing:1.18px;color:#45431c;">5760.046875,</div>
<div class="mono" style="left:942.80px;top:621.46px;font-size:13.14px;letter-spacing:1.18px;color:#45431c;">6224.699797}</div>
<div class="mono" style="left:942.80px;top:638.39px;font-size:13.14px;letter-spacing:1.18px;color:#45431c;">{6528.268253,</div>
<div class="mono" style="left:942.80px;top:655.32px;font-size:13.14px;letter-spacing:1.18px;color:#45431c;">4688.191406,</div>
<div class="mono" style="left:942.80px;top:672.25px;font-size:13.14px;letter-spacing:1.18px;color:#45431c;">3062.882788}</div>
<div class="mono" style="left:907.80px;top:604.53px;font-size:13.14px;letter-spacing:1.18px;color:#45431c;">176</div>
<div class="mono" style="left:907.80px;top:655.32px;font-size:13.14px;letter-spacing:1.18px;color:#45431c;">177</div>
</div></div>
<div class="abs" style="left:690px;top:712px;width:172px;height:12px;border:1.5px solid #55565a;border-radius:6px;background:#e9e9ee"></div>
<div class="abs" style="left:653px;top:690px;width:56.5px;height:22.5px;border-radius:11.5px;background:#1d1d1d;border:1.5px solid #8d8a85"></div>
<div class="abs" style="left:664px;top:691.5px;width:34.5px;height:19.5px;background:linear-gradient(90deg,#9c9eab,#b5b7c4 20%,#a9abb8 80%,#8f91a0)"></div>
</div></div>
</body></html>
